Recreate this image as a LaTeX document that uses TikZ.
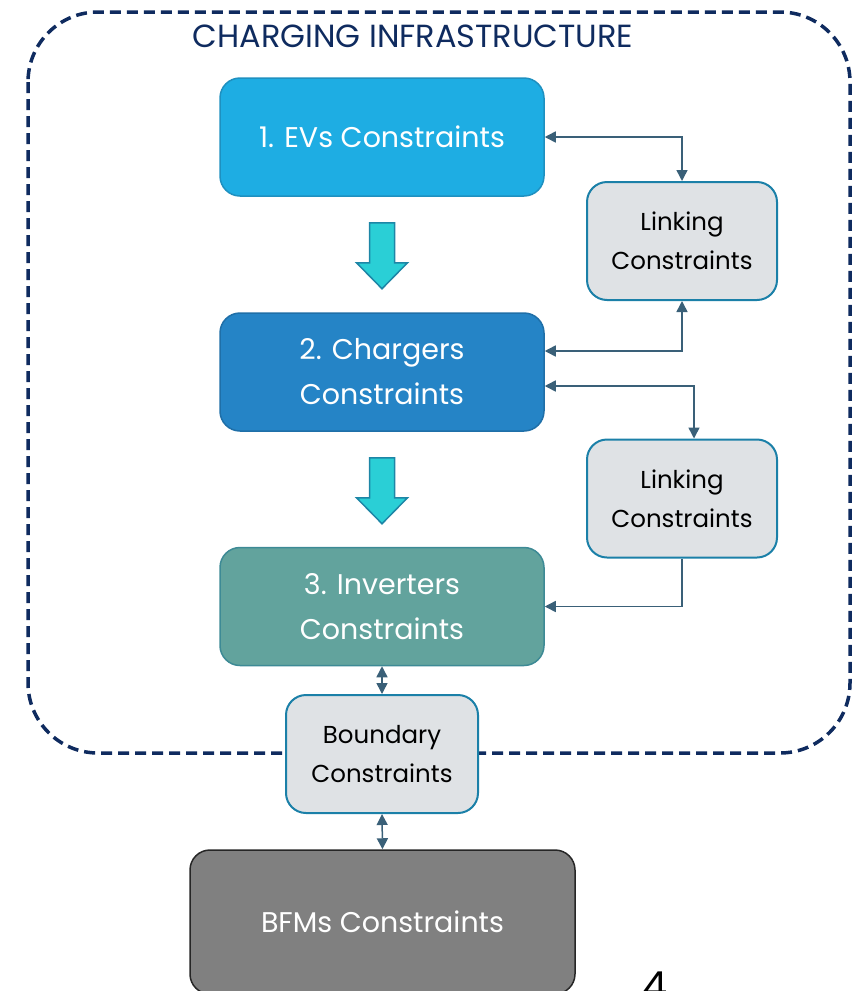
\documentclass[tikz,border=0pt]{standalone}
\usepackage{fontspec}
\setmainfont{Poppins}
\usetikzlibrary{arrows.meta,calc}
\definecolor{navy}{HTML}{0F2B5F}
\definecolor{evblue}{HTML}{1EADE3}
\definecolor{evedge}{HTML}{1E90C0}
\definecolor{chblue}{HTML}{2584C6}
\definecolor{chedge}{HTML}{1F6FA8}
\definecolor{invteal}{HTML}{62A39D}
\definecolor{invedge}{HTML}{3D8A95}
\definecolor{lightgray}{HTML}{DFE2E5}
\definecolor{lgedge}{HTML}{1B80A8}
\definecolor{conncol}{HTML}{3A6078}
\definecolor{arrfill}{HTML}{2ACFD6}
\definecolor{arredge}{HTML}{1D86A6}
\definecolor{bfmgray}{HTML}{808080}
\tikzset{
  x=1pt, y=-1pt,
  bigbox/.style={draw, line width=1.5pt, rounded corners=20pt, minimum width=324pt, minimum height=118pt,
    text=white, align=center, font=\fontsize{28.5}{45}\selectfont},
  smallbox/.style={draw=lgedge, fill=lightgray, line width=2pt, rounded corners=20pt, minimum width=190pt, minimum height=118pt,
    text=black, align=center, font=\fontsize{24.5}{39}\selectfont},
  conn/.style={draw=conncol, line width=1.5pt, {Triangle[length=11pt,width=11pt]}-{Triangle[length=11pt,width=11pt]}},
  conn1/.style={draw=conncol, line width=1.5pt, -{Triangle[length=11pt,width=11pt]}},
  blockarrow/.style={fill=arrfill, draw=arredge, line width=1.5pt, line join=miter}
}
\begin{document}
\begin{tikzpicture}
\useasboundingbox (0,0) rectangle (856,991);
\draw[navy, line width=3.5pt, dash pattern=on 11pt off 6pt, rounded corners=70pt] (28,12) rectangle (850,753);
\node[text=navy, font=\fontsize{32}{36}\selectfont] (title) at (413,36) {CHARGING INFRASTRUCTURE};

\node[bigbox, fill=evblue, draw=evedge] (box1) at (382,137) {1. EVs Constraints};
\node[bigbox, fill=chblue, draw=chedge] (box2) at (382,372) {2. Chargers\\Constraints};
\node[bigbox, fill=invteal, draw=invedge] (box3) at (382,606.5) {3. Inverters\\Constraints};

\node[smallbox] (link1) at (682,241) {Linking\\Constraints};
\node[smallbox] (link2) at (682,498.5) {Linking\\Constraints};
\node[smallbox, minimum width=192pt] (bound) at (382,754) {Boundary\\Constraints};

\node[bigbox, fill=bfmgray, draw=black!85, minimum width=385pt, minimum height=144pt] (bfm) at (382.5,922) {BFMs Constraints};

\node[font=\fontsize{40}{40}\selectfont, anchor=north, inner sep=0pt] (pnum) at (655,972) {4};

% block arrows
\foreach \a in {box1, box2}{
  \path[blockarrow] ($(\a.south)+(-12.5,26)$) -- ++(25,0) -- ++(0,40) -- ++(13,0) -- ++(-25.5,26) -- ++(-25.5,-26) -- ++(13,0) -- cycle;
}

% connectors
\draw[conn] (box1.east) -| (link1.north);
\draw[conn] (link1.south) |- ($(box2.east)+(0,-21)$);
\draw[conn] ($(box2.east)+(0,14)$) -| ($(link2.north)+(12,0)$);
\draw[conn1] (link2.south) |- (box3.east);
\draw[conn] (box3.south) -- (bound.north);
\draw[conn] (bound.south) -- (bfm.north);
\end{tikzpicture}
\end{document}
